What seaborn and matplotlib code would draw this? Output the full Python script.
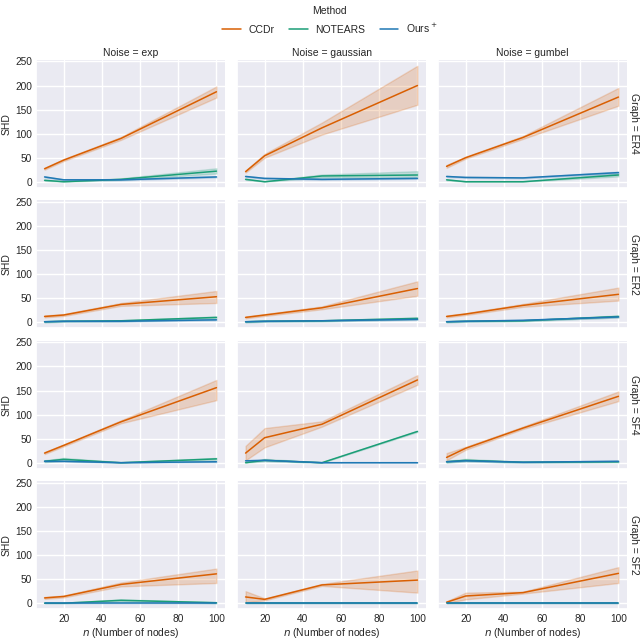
import numpy as np
import pandas as pd
import matplotlib
matplotlib.use("Agg")
import matplotlib.pyplot as plt
import seaborn as sns

n_nodes = [10, 20, 50, 100]
noises = ["exp", "gaussian", "gumbel"]
graphs = ["ER4", "ER2", "SF4", "SF2"]
methods = ["CCDr", "NOTEARS", "Ours$^+$"]
palette = ["#d95f02", "#1b9e77", "#1f78b4"]

# each entry: per noise (exp, gaussian, gumbel) -> values at n = 10, 20, 50, 100
# ---- Graph = ER4 ----
er4_ccdr_mean = [[27, 45, 90, 187], [21, 54, 112, 200], [32, 50, 92, 176]]
er4_ccdr_lo = [[25, 43, 87, 175], [19, 50, 98, 160], [29, 48, 89, 158]]
er4_ccdr_hi = [[29, 47, 93, 198], [23, 58, 123, 241], [35, 52, 95, 195]]
er4_notears_mean = [[3, 0, 5, 22], [5, 0, 12, 14], [4, 0, 0, 14]]
er4_notears_lo = [[2, 0, 4, 17], [4, 0, 9, 10], [3, 0, 0, 11]]
er4_notears_hi = [[4, 1, 7, 28], [6, 1, 15, 22], [5, 1, 1, 17]]
er4_ours_mean = [[10, 4, 4, 10], [11, 7, 5, 7], [11, 9, 8, 19]]
er4_ours_lo = [[9, 3, 3, 9], [10, 6, 4, 6], [10, 8, 7, 17]]
er4_ours_hi = [[11, 5, 5, 11], [12, 8, 6, 8], [12, 10, 9, 21]]
# ---- Graph = ER2 ----
er2_ccdr_mean = [[12, 15, 37, 53], [10, 15, 30, 70], [12, 17, 35, 58]]
er2_ccdr_lo = [[10, 13, 34, 40], [8, 13, 27, 55], [10, 15, 32, 45]]
er2_ccdr_hi = [[14, 17, 40, 65], [12, 17, 33, 85], [14, 19, 38, 72]]
er2_notears_mean = [[1, 2, 3, 10], [1, 2, 3, 8], [1, 2, 3, 12]]
er2_notears_lo = [[0, 1, 2, 8], [0, 1, 2, 6], [0, 1, 2, 10]]
er2_notears_hi = [[2, 3, 4, 12], [2, 3, 4, 10], [2, 3, 4, 14]]
er2_ours_mean = [[1, 2, 2, 5], [1, 2, 3, 6], [1, 2, 4, 11]]
er2_ours_lo = [[0, 1, 1, 4], [0, 1, 2, 5], [0, 1, 3, 10]]
er2_ours_hi = [[2, 3, 3, 6], [2, 3, 4, 7], [2, 3, 5, 12]]
# ---- Graph = SF4 ----
sf4_ccdr_mean = [[20, 36, 85, 156], [20, 52, 80, 172], [11, 30, 72, 138]]
sf4_ccdr_lo = [[18, 34, 82, 130], [5, 32, 75, 162], [5, 27, 70, 128]]
sf4_ccdr_hi = [[22, 38, 88, 172], [35, 72, 86, 182], [20, 33, 75, 148]]
sf4_notears_mean = [[3, 7, 0, 8], [0, 5, 0, 65], [2, 5, 1, 2]]
sf4_notears_lo = [[1, 4, 0, 6], [0, 3, 0, 64], [0, 3, 0, 1]]
sf4_notears_hi = [[5, 10, 1, 10], [1, 8, 1, 66], [4, 8, 2, 3]]
sf4_ours_mean = [[3, 3, 0, 2], [4, 5, 0, 0], [2, 4, 1, 3]]
sf4_ours_lo = [[2, 2, 0, 1], [3, 4, 0, 0], [1, 3, 0, 2]]
sf4_ours_hi = [[4, 4, 1, 3], [5, 6, 1, 1], [3, 5, 2, 4]]
# ---- Graph = SF2 ----
sf2_ccdr_mean = [[11, 14, 39, 61], [13, 8, 38, 48], [2, 15, 22, 62]]
sf2_ccdr_lo = [[9, 12, 35, 42], [2, 6, 36, 22], [0, 8, 20, 42]]
sf2_ccdr_hi = [[13, 16, 43, 72], [25, 10, 40, 68], [4, 22, 24, 75]]
sf2_notears_mean = [[0, 0, 6, 1], [0, 0, 0, 0], [0, 0, 0, 0]]
sf2_notears_lo = [[0, 0, 3, 0], [0, 0, 0, 0], [0, 0, 0, 0]]
sf2_notears_hi = [[1, 1, 8, 2], [1, 1, 1, 1], [1, 1, 1, 1]]
sf2_ours_mean = [[0, 0, 0, 0], [0, 0, 0, 0], [0, 0, 0, 0]]
sf2_ours_lo = [[0, 0, 0, 0], [0, 0, 0, 0], [0, 0, 0, 0]]
sf2_ours_hi = [[1, 1, 1, 1], [1, 1, 1, 1], [1, 1, 1, 1]]

table = {
    "ER4": [(er4_ccdr_mean, er4_ccdr_lo, er4_ccdr_hi),
            (er4_notears_mean, er4_notears_lo, er4_notears_hi),
            (er4_ours_mean, er4_ours_lo, er4_ours_hi)],
    "ER2": [(er2_ccdr_mean, er2_ccdr_lo, er2_ccdr_hi),
            (er2_notears_mean, er2_notears_lo, er2_notears_hi),
            (er2_ours_mean, er2_ours_lo, er2_ours_hi)],
    "SF4": [(sf4_ccdr_mean, sf4_ccdr_lo, sf4_ccdr_hi),
            (sf4_notears_mean, sf4_notears_lo, sf4_notears_hi),
            (sf4_ours_mean, sf4_ours_lo, sf4_ours_hi)],
    "SF2": [(sf2_ccdr_mean, sf2_ccdr_lo, sf2_ccdr_hi),
            (sf2_notears_mean, sf2_notears_lo, sf2_notears_hi),
            (sf2_ours_mean, sf2_ours_lo, sf2_ours_hi)],
}

rows = []
for g in graphs:
    for m, (mean, lo, hi) in zip(methods, table[g]):
        for k, nz in enumerate(noises):
            for j, n in enumerate(n_nodes):
                # three records per point: median gives the line, min/max the band
                for v in (lo[k][j], mean[k][j], hi[k][j]):
                    rows.append({"Graph": g, "Noise": nz, "Method": m,
                                 "n": n, "SHD": v})
df = pd.DataFrame(rows)

sns.set_theme(style="darkgrid")
plt.rcParams["font.family"] = ["Liberation Sans", "DejaVu Sans"]
plt.rcParams["xtick.labelsize"] = 7.3
plt.rcParams["ytick.labelsize"] = 7.3
plt.rcParams["axes.labelsize"] = 7.5
plt.rcParams["axes.titlesize"] = 7.5
plt.rcParams["legend.fontsize"] = 7.5
plt.rcParams["legend.title_fontsize"] = 7.5
plt.rcParams["axes.titlepad"] = 3

g = sns.relplot(data=df, x="n", y="SHD", hue="Method", hue_order=methods,
                palette=palette, row="Graph", col="Noise",
                row_order=graphs, col_order=noises, kind="line",
                estimator="median", errorbar=("pi", 100),
                facet_kws=dict(margin_titles=True, sharey=True, sharex=True),
                height=1.4, aspect=1.4, linewidth=1.1)
g.set_titles(col_template="Noise = {col_name}", row_template="Graph = {row_name}",
             size=7.5)
g.set_axis_labels("$n$ (Number of nodes)", "SHD")
for ax in g.axes.flat:
    ax.set_yticks([0, 50, 100, 150, 200, 250])
    ax.set_xticks([20, 40, 60, 80, 100])
    ax.tick_params(axis="both", length=0)
    ax.tick_params(axis="y", pad=3)
    ax.tick_params(axis="x", pad=3.5)
for ax in g.axes[:, 0]:
    ax.yaxis.set_label_coords(-24 / 189, 0.5)
for ax in g.axes[-1, :]:
    ax.xaxis.set_label_coords(0.5, -17.5 / 128)
for t in g._margin_titles_texts:
    t.set_position((1.008, 0.5))

sns.move_legend(g, "upper center", bbox_to_anchor=(0.515, 1.0), ncol=3,
                title="Method", frameon=False, columnspacing=1.4,
                handlelength=1.8, handletextpad=0.7, borderaxespad=0.2)

fig = g.figure
fig.set_size_inches(6.4, 6.39)
fig.subplots_adjust(left=36 / 640, right=627 / 640, top=1 - 60 / 639,
                    bottom=1 - 609 / 639, wspace=12 / 189, hspace=13 / 128)
fig.savefig("out.png", dpi=100)
